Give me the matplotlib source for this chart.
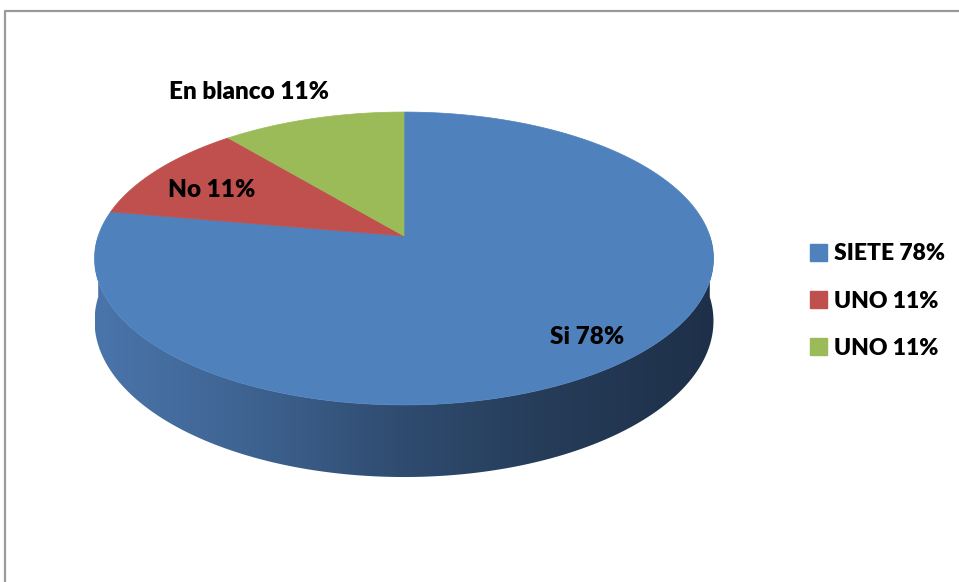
import numpy as np
import matplotlib
matplotlib.use("Agg")
import matplotlib.pyplot as plt
from matplotlib.patches import Polygon, Patch
from matplotlib.colors import LinearSegmentedColormap

# data
values = [7, 1, 1]
slice_labels = ["Si 78%", "No 11%", "En blanco 11%"]
legend_labels = ["SIETE 78%", "UNO 11%", "UNO 11%"]
colors = ["#4f81bd", "#c0504d", "#9bbb59"]

# geometry of the tilted pie (pixel units)
CX, CY = 404.0, 236.0      # apex of the pie on screen
A, B = 305.8, 143.0        # radii before perspective
K = 0.1536                 # perspective strength
T = 61.0                   # thickness

side_cmap = LinearSegmentedColormap.from_list(
    "side", ["#4a75ab", "#3e6391", "#2f4b6f", "#253b57", "#1e3049"])


def project(theta, depth=0.0):
    t = np.radians(theta)
    u, v = np.cos(t), np.sin(t)
    w = 1 + K * v
    return CX + A * u / w, CY - B * v / w + depth / w


fig = plt.figure(figsize=(9.59, 5.82), dpi=100)
ax = fig.add_axes([0, 0, 1, 1])
ax.set_xlim(0, 959)
ax.set_ylim(582, 0)
ax.axis("off")

# chart frame
ax.plot([5, 5, 965], [590, 11, 11], color="#9a9a9a", lw=1.6, solid_capstyle="butt")

# side of the pie (only the front is visible, all of it blue): one polygon
# filled with a left-to-right gradient
phis = np.linspace(180, 360, 300)
tx, ty = project(phis)
bx, by = project(phis[::-1], T)
side = Polygon(list(zip(tx, ty)) + list(zip(bx, by)), closed=True,
               fc="none", ec="none")
ax.add_patch(side)
x0, x1 = CX - A * 1.012, CX + A * 1.012
grad = np.linspace(0, 1, 256).reshape(1, -1)
im = ax.imshow(grad, cmap=side_cmap, aspect="auto",
               extent=(x0, x1, by.max() + 2, ty.min() - 2), zorder=1)
im.set_clip_path(side)
ax.set_xlim(0, 959)
ax.set_ylim(582, 0)

# top face, starting at 12 o'clock, going clockwise
total = sum(values)
start = 90.0
for val, col in zip(values, colors):
    end = start - 360.0 * val / total
    th = np.linspace(start, end, 200)
    rx, ry = project(th)
    pts = [(CX, CY)] + list(zip(rx, ry))
    ax.add_patch(Polygon(pts, closed=True, fc=col, ec=col, lw=0.5, zorder=2))
    start = end

font = dict(family=["Lato", "DejaVu Sans"], weight="heavy", size=17.5, color="black")
label_pos = [(587, 337), (212, 190), (249, 92)]
for txt, (lx, ly) in zip(slice_labels, label_pos):
    ax.text(lx, ly, txt, ha="center", va="center", zorder=3, **font)

handles = [Patch(fc=c, ec=c) for c in colors]
ax.legend(handles, legend_labels, loc="center left",
          bbox_to_anchor=(789 / 959, 1 - 301 / 582), frameon=False,
          handlelength=0.75, handleheight=0.75, handletextpad=0.3,
          labelspacing=1.15,
          prop=dict(family=["Lato", "DejaVu Sans"], weight="heavy", size=16.5))

fig.savefig("out.png", dpi=100)
